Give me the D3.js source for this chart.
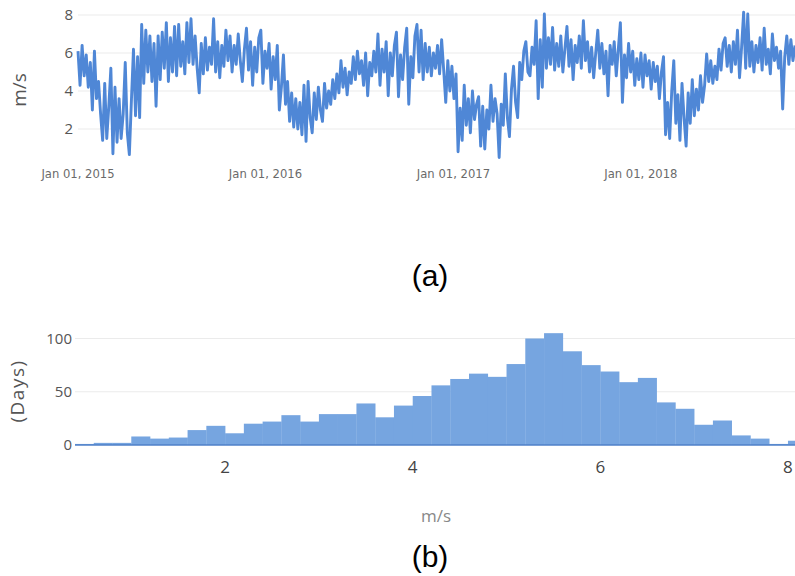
<html>
  <head>
    <script src="https://d3js.org/d3.v7.min.js"></script>
    <style>
      body { margin: 0; background: #fff; }
    </style>
  </head>
  <body>
    <div id="vis"></div>
  </body>
  <script>
    // daily wind speed, every 4 days from Jan 01, 2015
    var speedStart = "2015-01-01"
    var stepDays = 4
    var speed = [
      6.1, 4.3, 6.4, 4.8, 5.9, 4.2, 5.5, 3.0, 6.1, 3.6,
      4.5, 2.8, 1.4, 4.4, 1.5, 3.2, 5.2, 0.7, 4.2, 1.3,
      3.6, 1.5, 2.8, 5.5, 1.8, 0.65, 3.5, 6.2, 2.7, 5.8,
      2.6, 7.5, 4.4, 7.2, 5.0, 6.9, 4.5, 6.5, 3.2, 6.9,
      4.6, 7.1, 5.2, 7.6, 4.5, 6.8, 5.0, 7.4, 4.8, 7.5,
      5.3, 6.6, 4.9, 7.6, 5.5, 7.8, 5.4, 6.9, 5.2, 3.9,
      6.5, 4.9, 6.8, 5.1, 6.3, 5.4, 7.8, 5.0, 6.6, 4.7,
      6.4, 5.3, 7.2, 5.6, 6.9, 5.0, 6.4, 5.4, 7.0, 5.6,
      4.5, 6.2, 7.3, 5.1, 6.6, 4.3, 6.3, 5.0, 6.8, 7.2,
      4.4, 6.1, 5.2, 6.5, 4.1, 5.8, 4.6, 6.4, 3.0, 4.2,
      5.9, 3.3, 4.5, 2.4, 3.9, 2.1, 3.6, 2.0, 3.4, 1.7,
      4.3, 1.35, 4.5, 2.6, 1.8, 3.9, 2.5, 4.2, 3.0, 2.4,
      4.4, 3.1, 4.0, 3.3, 4.6, 3.6, 4.9, 3.9, 5.6, 4.2,
      5.2, 3.8, 5.0, 4.4, 5.8, 4.6, 6.1, 4.9, 5.6, 4.3,
      6.0, 3.75, 5.5, 4.8, 6.1, 5.0, 7.0, 4.3, 6.2, 5.0,
      6.6, 3.75, 6.0, 4.8, 6.4, 7.1, 3.7, 5.9, 4.6, 6.3,
      7.3, 3.3, 5.8, 4.7, 6.9, 7.5, 5.0, 7.2, 4.6, 6.5,
      5.0, 6.3, 4.8, 6.0, 5.2, 6.4, 4.9, 6.7, 5.1, 3.4,
      5.6, 4.0, 5.3, 3.6, 4.9, 0.8, 3.1, 1.4, 4.3, 2.2,
      3.6, 1.8, 4.0, 2.5, 3.3, 3.7, 1.1, 3.2, 0.95, 3.0,
      2.0, 4.3, 2.4, 3.6, 2.8, 0.5, 3.3, 2.2, 4.9, 2.6,
      1.6, 4.1, 5.3, 3.4, 2.6, 5.5, 4.6, 6.1, 6.6, 5.0,
      4.8, 6.3, 5.4, 7.7, 3.6, 6.7, 4.2, 8.05, 5.2, 6.8,
      5.4, 7.35, 5.1, 6.5, 5.3, 6.9, 5.0, 6.2, 7.4, 5.3,
      6.7, 4.6, 6.4, 5.5, 6.9, 5.2, 7.7, 5.6, 6.6, 5.0,
      6.3, 4.7, 6.0, 7.2, 5.2, 6.5, 4.9, 6.1, 3.75, 6.4,
      5.4, 6.6, 4.8, 6.2, 7.6, 3.4, 5.9, 4.7, 6.5, 5.0,
      6.1, 4.3, 5.7, 4.6, 6.0, 4.2, 5.9, 4.8, 5.6, 4.1,
      5.5, 4.5, 5.3, 3.6, 5.0, 5.8, 1.7, 3.4, 1.5, 4.0,
      5.6, 2.3, 3.8, 1.4, 4.4, 2.6, 1.1, 3.9, 2.3, 4.6,
      2.7, 4.1, 3.0, 4.8, 3.4, 4.3, 5.95, 4.5, 5.6, 4.4,
      5.3, 4.6, 6.2, 5.1, 6.5, 6.8, 5.3, 6.4, 5.0, 6.6,
      5.4, 7.2, 4.7, 6.3, 8.15, 5.2, 8.05, 5.3, 6.6, 5.0,
      6.4, 5.5, 6.8, 5.1, 7.3, 5.4, 6.2, 4.9, 7.0, 5.6,
      6.3, 5.2, 6.1, 3.05, 5.8, 6.9, 5.4, 6.7, 5.6, 6.4
    ]
    var speedTicks = [2, 4, 6, 8]
    var yearTicks = ["2015-01-01", "2016-01-01", "2017-01-01", "2018-01-01"]

    // histogram of daily speed, bins 0.2 m/s wide
    var binStart = [0.4, 0.6, 0.8, 1.0, 1.2, 1.4, 1.6, 1.8, 2.0, 2.2,
                    2.4, 2.6, 2.8, 3.0, 3.2, 3.4, 3.6, 3.8, 4.0, 4.2,
                    4.4, 4.6, 4.8, 5.0, 5.2, 5.4, 5.6, 5.8, 6.0, 6.2,
                    6.4, 6.6, 6.8, 7.0, 7.2, 7.4, 7.6, 7.8, 8.0]
    var binCount = [1, 2, 2, 8, 6, 7, 14, 18, 11, 20,
                    22, 28, 22, 29, 29, 39, 26, 37, 46, 56,
                    62, 67, 64, 76, 100, 105, 88, 75, 69, 59,
                    63, 40, 34, 19, 23, 9, 6, 1, 4]
    var binWidth = 0.2
    var dayTicks = [0, 50, 100]
    var msTicks = [2, 4, 6, 8]

    var sans = '"Open Sans", sans-serif'
    var arial = '"Liberation Sans", Arial, sans-serif'

    var svg = d3.select("#vis")
      .append("svg")
      .attr("width", 795)
      .attr("height", 576)
      .style("font-family", sans)

    var parse = d3.timeParse("%Y-%m-%d")
    var t0 = parse(speedStart)
    var series = speed.map(function(v, i) {
      return {date: d3.timeDay.offset(t0, i * stepDays), value: v}
    })

    // ---- (a) time series ----
    var x = d3.scaleTime()
      .domain([t0, parse("2018-10-28")])
      .range([78, 795])
    var y = d3.scaleLinear()
      .domain([0, 8])
      .range([167, 15])

    svg.append("g")
      .selectAll("line")
      .data(speedTicks)
      .join("line")
      .attr("x1", 78).attr("x2", 795)
      .attr("y1", d => y(d)).attr("y2", d => y(d))
      .attr("stroke", "#ebebeb")
      .attr("stroke-width", 1)

    svg.append("g")
      .selectAll("text")
      .data(speedTicks)
      .join("text")
      .text(d => d)
      .attr("x", 73)
      .attr("y", d => y(d) + 5)
      .attr("text-anchor", "end")
      .attr("font-size", 15)
      .attr("fill", "#555")

    svg.append("g")
      .selectAll("text")
      .data(yearTicks)
      .join("text")
      .text(d => d3.timeFormat("%b %d, %Y")(parse(d)))
      .attr("x", d => x(parse(d)))
      .attr("y", 178)
      .attr("text-anchor", "middle")
      .style("font-family", '"DejaVu Sans", sans-serif')
      .attr("font-size", 11.6)
      .attr("fill", "#6a6a6a")

    svg.append("text")
      .text("m/s")
      .attr("transform", "translate(26,90) rotate(-90)")
      .attr("text-anchor", "middle")
      .attr("font-size", 19)
      .attr("fill", "#555")

    svg.append("clipPath")
      .attr("id", "clipA")
      .append("rect")
      .attr("x", 70).attr("y", 0).attr("width", 725).attr("height", 170)

    svg.append("path")
      .datum(series)
      .attr("clip-path", "url(#clipA)")
      .attr("fill", "none")
      .attr("stroke", "#4f87d6")
      .attr("stroke-width", 2.9)
      .attr("stroke-linejoin", "round")
      .attr("d", d3.line()
        .x(d => x(d.date))
        .y(d => y(d.value))
      )

    svg.append("text")
      .text("(a)")
      .attr("x", 430)
      .attr("y", 286)
      .attr("text-anchor", "middle")
      .style("font-family", arial)
      .attr("font-size", 30)
      .attr("fill", "#000")

    // ---- (b) histogram ----
    var hx = d3.scaleLinear()
      .domain([0.4, 8.075])
      .range([75, 795])
    var hy = d3.scaleLinear()
      .domain([0, 100])
      .range([445, 338.5])

    svg.append("g")
      .selectAll("line")
      .data(dayTicks.slice(1))
      .join("line")
      .attr("x1", 75).attr("x2", 795)
      .attr("y1", d => hy(d)).attr("y2", d => hy(d))
      .attr("stroke", "#ebebeb")
      .attr("stroke-width", 1)

    svg.append("clipPath")
      .attr("id", "clipB")
      .append("rect")
      .attr("x", 75).attr("y", 300).attr("width", 720).attr("height", 150)

    svg.append("g")
      .attr("clip-path", "url(#clipB)")
      .selectAll("rect")
      .data(binStart)
      .join("rect")
      .attr("x", d => hx(d))
      .attr("width", d => hx(d + binWidth) - hx(d) + 0.3)
      .attr("y", (d, i) => hy(binCount[i]))
      .attr("height", (d, i) => hy(0) - hy(binCount[i]))
      .attr("fill", "#76a5e0")

    svg.append("line")
      .attr("x1", 75).attr("x2", 795)
      .attr("y1", hy(0)).attr("y2", hy(0))
      .attr("stroke", "#4f80c8")
      .attr("stroke-width", 1.5)

    svg.append("g")
      .selectAll("text")
      .data(dayTicks)
      .join("text")
      .text(d => d)
      .attr("x", 72)
      .attr("y", d => hy(d) + 5)
      .attr("text-anchor", "end")
      .attr("font-size", 15)
      .attr("fill", "#555")

    svg.append("g")
      .selectAll("text")
      .data(msTicks)
      .join("text")
      .text(d => d)
      .attr("x", d => hx(d))
      .attr("y", 473)
      .attr("text-anchor", "middle")
      .attr("font-size", 17)
      .attr("fill", "#444")

    svg.append("text")
      .text("(Days)")
      .attr("transform", "translate(24,391) rotate(-90)")
      .attr("text-anchor", "middle")
      .attr("font-size", 19)
      .attr("letter-spacing", 1.5)
      .attr("fill", "#555")

    svg.append("text")
      .text("m/s")
      .attr("x", 436)
      .attr("y", 522)
      .attr("text-anchor", "middle")
      .attr("font-size", 17)
      .attr("fill", "#888")

    svg.append("text")
      .text("(b)")
      .attr("x", 430)
      .attr("y", 567)
      .attr("text-anchor", "middle")
      .style("font-family", arial)
      .attr("font-size", 30)
      .attr("fill", "#000")
  </script>
</html>
